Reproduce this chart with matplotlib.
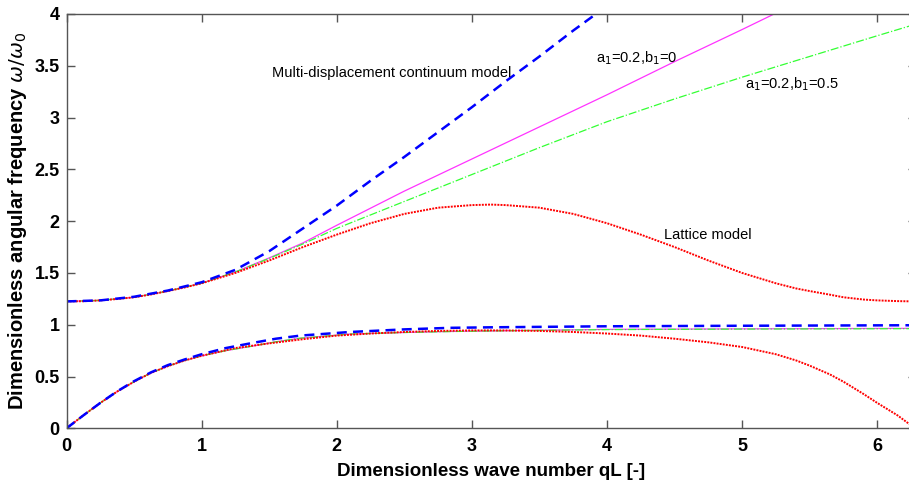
import numpy as np
import matplotlib
matplotlib.use("Agg")
import matplotlib.pyplot as plt

plt.rcParams['font.family'] = ['Liberation Sans', 'DejaVu Sans']

# Lattice model (red dotted), upper and lower branches
xLat = [0, 0.125, 0.25, 0.375, 0.5, 0.625, 0.75, 0.875, 1.0, 1.25, 1.5, 1.75, 2.0, 2.25, 2.5, 2.75,
        3.0, 3.14, 3.25, 3.5, 3.75, 4.0, 4.25, 4.5, 4.75, 5.0, 5.25, 5.4, 5.5, 5.65, 5.75, 5.9, 6.0, 6.15, 6.28]
latUpper = [1.225, 1.227, 1.235, 1.248, 1.265, 1.292, 1.325, 1.36, 1.40, 1.50, 1.62, 1.75, 1.87, 1.98, 2.07, 2.13,
            2.155, 2.16, 2.155, 2.13, 2.07, 1.98, 1.87, 1.75, 1.62, 1.50, 1.40, 1.35, 1.325, 1.29, 1.265, 1.243, 1.235, 1.228, 1.225]
latLower = [0, 0.125, 0.245, 0.355, 0.45, 0.535, 0.60, 0.655, 0.70, 0.775, 0.82, 0.86, 0.895, 0.915, 0.93, 0.94,
            0.945, 0.945, 0.945, 0.94, 0.93, 0.915, 0.895, 0.865, 0.83, 0.785, 0.715, 0.655, 0.605, 0.52, 0.45, 0.33, 0.245, 0.125, 0]

# Multi-displacement continuum model (blue dashed)
xBlueUp = [0, 0.25, 0.5, 0.75, 1.0, 1.25, 1.5, 1.75, 2.0, 2.25, 2.5, 2.75, 3.0, 3.25, 3.5, 3.75, 3.95]
blueUpper = [1.225, 1.235, 1.27, 1.33, 1.41, 1.53, 1.71, 1.93, 2.15, 2.39, 2.62, 2.86, 3.10, 3.35, 3.59, 3.84, 4.03]
xBlueLo = [0, 0.125, 0.25, 0.375, 0.5, 0.625, 0.75, 0.875, 1.0, 1.18, 1.36, 1.55, 1.73, 2.1, 2.5, 2.84, 3.14, 4.0, 5.0, 6.28]
blueLower = [0, 0.125, 0.245, 0.357, 0.455, 0.54, 0.61, 0.665, 0.715, 0.775, 0.82, 0.865, 0.895, 0.93, 0.955, 0.97, 0.975, 0.985, 0.99, 0.995]

# a1=0.2, b1=0 (magenta solid)
xMagUp = [0, 0.25, 0.5, 0.75, 1.0, 1.25, 1.5, 1.75, 2.0, 2.5, 3.0, 3.5, 4.0, 4.5, 5.0, 5.3]
magUpper = [1.225, 1.235, 1.265, 1.325, 1.40, 1.51, 1.645, 1.79, 1.96, 2.29, 2.60, 2.91, 3.22, 3.54, 3.85, 4.04]

# a1=0.2, b1=0.5 (green dash-dot)
xGrnUp = [0, 0.25, 0.5, 0.75, 1.0, 1.25, 1.5, 1.75, 2.0, 2.5, 3.0, 3.5, 4.0, 4.5, 5.0, 5.5, 6.0, 6.28]
grnUpper = [1.225, 1.235, 1.265, 1.325, 1.40, 1.51, 1.64, 1.78, 1.93, 2.19, 2.45, 2.71, 2.96, 3.18, 3.39, 3.59, 3.79, 3.90]

# lower branches of the two continuum variants
xLo = [0, 0.125, 0.25, 0.375, 0.5, 0.625, 0.75, 0.875, 1.0, 1.18, 1.36, 1.55, 1.73, 2.1, 2.5, 2.84, 3.14, 4.0, 5.0, 6.28]
magLower = [0, 0.125, 0.245, 0.355, 0.45, 0.535, 0.60, 0.655, 0.70, 0.75, 0.79, 0.835, 0.87, 0.91, 0.925, 0.935, 0.94, 0.955, 0.96, 0.965]
grnLower = [0, 0.125, 0.245, 0.355, 0.45, 0.535, 0.60, 0.655, 0.70, 0.75, 0.79, 0.835, 0.87, 0.91, 0.925, 0.934, 0.94, 0.953, 0.958, 0.962]

W, H = 909, 487
fig = plt.figure(figsize=(W / 100, H / 100), dpi=100)
ax = fig.add_axes([66.5 / W, (H - 428.3) / H, (915.5 - 66.5) / W, (428.3 - 14) / H])

ax.plot(xMagUp, magUpper, '-', color='#ff33ff', lw=0.9)
ax.plot(xLo, magLower, '-', color='#ff33ff', lw=0.9)
ax.plot(xGrnUp, grnUpper, '-.', color='#33ff33', lw=0.9)
ax.plot(xLo, grnLower, '-.', color='#33ff33', lw=0.9)
ax.plot(xLat, latUpper, ':', color='#ff0000', lw=1.4, dashes=(1, 0.6))
ax.plot(xLat, latLower, ':', color='#ff0000', lw=1.4, dashes=(1, 0.6))
ax.plot(xBlueUp, blueUpper, '--', color='#0000ff', lw=1.8, dashes=(4, 2.5))
ax.plot(xBlueLo, blueLower, '--', color='#0000ff', lw=1.8, dashes=(4, 2.5))

ax.set_xlim(0, 2 * np.pi)
ax.set_ylim(0, 4)
ax.set_xticks([0, 1, 2, 3, 4, 5, 6])
ax.set_yticks([0, 0.5, 1, 1.5, 2, 2.5, 3, 3.5, 4])
ax.set_yticklabels(['0', '0.5', '1', '1.5', '2', '2.5', '3', '3.5', '4'])
ax.tick_params(direction='in', top=True, right=True, length=6, width=1, color='#555555',
               labelsize=13)
ax.tick_params(axis='x', pad=7)
ax.tick_params(axis='y', pad=5)
for lbl in ax.get_xticklabels() + ax.get_yticklabels():
    lbl.set_fontweight('bold')
for s in ax.spines.values():
    s.set_color('#555555')
    s.set_linewidth(1)

ax.set_xlabel('Dimensionless wave number qL [-]', fontsize=13.5, fontweight='bold', labelpad=6)
ax.set_ylabel(r'Dimensionless angular frequency $\omega/\omega_0$', fontsize=14.5,
              fontweight='bold', labelpad=4)

ax.text(1.52, 3.43, 'Multi-displacement continuum model', fontsize=10.5, va='center')
ax.text(3.92, 3.57, r'a$_1$=0.2,b$_1$=0', fontsize=10.5, va='center')
ax.text(5.02, 3.32, r'a$_1$=0.2,b$_1$=0.5', fontsize=10.5, va='center')
ax.text(4.42, 1.87, 'Lattice model', fontsize=10.5, va='center')

fig.savefig('out.png', dpi=100)
